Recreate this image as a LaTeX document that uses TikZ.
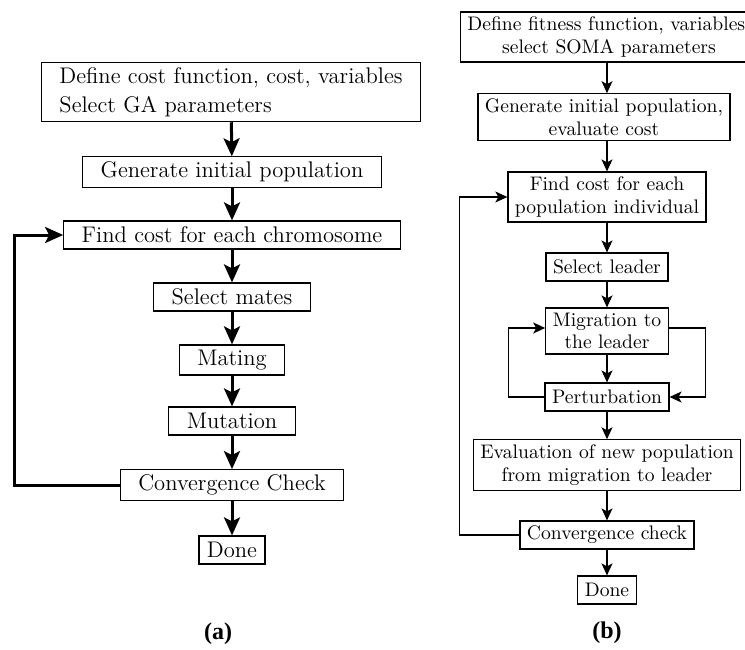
\documentclass[tikz,border=0pt]{standalone}
\usepackage{fontspec}
\usepackage{tikz}
\usetikzlibrary{arrows.meta}
\newfontfamily\capfont{Liberation Serif}
\tikzset{
  gabox/.style={draw, line width=0.6pt, align=center, font=\fontsize{11.3}{14.5}\selectfont, inner xsep=9pt, inner ysep=2.5pt, minimum height=14pt},
  somabox/.style={draw, line width=0.6pt, align=center, font=\fontsize{9.8}{11.2}\selectfont, inner xsep=3.5pt, inner ysep=2.5pt, minimum height=14pt},
  gaarr/.style={-{Stealth[length=9pt, width=8pt, inset=2pt]}, line width=1.5pt},
  somaarr/.style={-{Stealth[length=6pt, width=5.5pt, inset=1.5pt]}, line width=0.6pt},
  caption/.style={font=\capfont\bfseries\fontsize{12}{14}\selectfont},
}
\begin{document}
\begin{tikzpicture}[x=0.5pt, y=-0.5pt]
  \useasboundingbox (0,0) rectangle (745,649);
  % (a) genetic algorithm
  \node[gabox, align=left] (define) at (231,92) {Define cost function, cost, variables\\Select GA parameters};
  \node[gabox] (generate) at (232,172) {Generate initial population};
  \node[gabox] (findcost) at (232,235) {Find cost for each chromosome};
  \node[gabox] (mates) at (232,297) {Select mates};
  \node[gabox] (mating) at (232,360) {Mating};
  \node[gabox] (mutation) at (232,421) {Mutation};
  \node[gabox] (conv) at (232,485) {Convergence Check};
  \node[gabox, inner xsep=4pt] (done) at (232,550) {Done};
  \draw[gaarr] (define) -- (generate);
  \draw[gaarr] (generate) -- (findcost);
  \draw[gaarr] (findcost) -- (mates);
  \draw[gaarr] (mates) -- (mating);
  \draw[gaarr] (mating) -- (mutation);
  \draw[gaarr] (mutation) -- (conv);
  \draw[gaarr] (conv) -- (done);
  \draw[gaarr] (conv.west) -- ++(-105,0) |- (findcost.west);
  \node[caption] (capa) at (218,634) {(a)};
  % (b) SOMA
  \node[somabox] (sdefine) at (609,37) {Define fitness function, variables,\\select SOMA parameters};
  \node[somabox] (sgenerate) at (604,117) {Generate initial population,\\evaluate cost};
  \node[somabox] (sfindcost) at (607,197) {Find cost for each\\population individual};
  \node[somabox, minimum width=60pt] (leader) at (607,267) {Select leader};
  \node[somabox, minimum width=60pt] (migrate) at (607,331) {Migration to\\the leader};
  \node[somabox, minimum width=60pt] (perturb) at (607,397) {Perturbation};
  \node[somabox] (evaluate) at (607,465) {Evaluation of new population\\from migration to leader};
  \node[somabox] (sconv) at (607,535) {Convergence check};
  \node[somabox] (sdone) at (607,590) {Done};
  \draw[somaarr] (sdefine.south -| sfindcost) -- (sgenerate.north -| sfindcost);
  \draw[somaarr] (sgenerate.south -| sfindcost) -- (sfindcost);
  \draw[somaarr] (sfindcost) -- (leader);
  \draw[somaarr] (leader) -- (migrate);
  \draw[somaarr] (migrate) -- (perturb);
  \draw[somaarr] (perturb) -- (evaluate);
  \draw[somaarr] (evaluate) -- (sconv);
  \draw[somaarr] (sconv) -- (sdone);
  \draw[somaarr] (perturb.west) -- ++(-36,0) |- ([yshift=1.5pt]migrate.west);
  \draw[somaarr] ([yshift=1.5pt]migrate.east) -- ++(37,0) |- (perturb.east);
  \draw[somaarr] (sconv.west) -- ++(-60,0) |- (sfindcost.west);
  \node[caption] (capb) at (607,633) {(b)};
\end{tikzpicture}
\end{document}
